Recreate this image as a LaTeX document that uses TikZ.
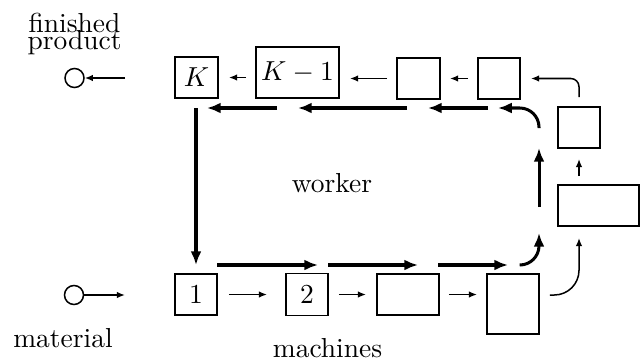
\documentclass[tikz,border=0pt]{standalone}
\usetikzlibrary{arrows.meta,calc}
\begin{document}
\begin{tikzpicture}[x=0.364pt,y=-0.364pt,
  box/.style={draw,line width=0.7pt,inner sep=0pt},
  sz/.style 2 args={minimum width=#1*0.364pt,minimum height=#2*0.364pt},
  thinarr/.style={line width=0.55pt,-{Latex[length=3pt,width=2.4pt]}},
  work/.style={line width=1.1pt,-{Latex[length=5pt,width=4pt]}},
  src/.style={draw,circle,line width=0.55pt,minimum size=19*0.364pt,inner sep=0pt},
  lbl/.style={anchor=base,inner sep=0pt}
]
\useasboundingbox (0,0) rectangle (642,360);
% machines
\node[box,sz={43}{41}] (nK)  at (196.5,77.5) {$K$};
\node[box,sz={83}{51}] (nK1) at (297.5,72.5) {$K-1$};
\node[box,sz={43}{41}] (nT3) at (418.5,78.5) {};
\node[box,sz={42}{41}] (nT4) at (499,78.5) {};
\node[box,sz={42}{41}] (nR1) at (579,127.5) {};
\node[box,sz={81}{41}] (nR2) at (598.5,205.5) {};
\node[box,sz={42}{41}] (nB1) at (196,294.5) {1};
\node[box,sz={42}{42}] (nB2) at (307,294.5) {2};
\node[box,sz={62}{41}] (nB3) at (408,294.5) {};
\node[box,sz={52}{60}] (nB4) at (513,304) {};
% source / sink
\node[src] (cT) at (74.5,78) {};
\node[src] (cB) at (74,295) {};
\coordinate (pT) at (125,78);
\coordinate (pB) at (125,295);
\draw[thinarr] (pT) -- (cT);
\draw[thinarr] (cB) -- (pB);
% material flow
\draw[thinarr] ($(nB1.east)+(11,0)$) -- ($(nB2.west)+(-18,0)$);
\draw[thinarr] ($(nB2.east)+(10,0)$) -- ($(nB3.west)+(-10,0)$);
\draw[thinarr] ($(nB3.east)+(9,0)$) -- ($(nB3.east-|nB4.west)+(-9,0)$);
\draw[thinarr,rounded corners=9pt] ($(nB4.east)+(10,-9)$) -| ($(nR2.south-|nR1.south)+(0,11)$);
\draw[thinarr] ($(nR2.north-|nR1.south)+(0,-8)$) -- ($(nR1.south)+(0,10)$);
\draw[thinarr,rounded corners=3pt] ($(nR1.north)+(0,-9)$) |- ($(nT4.east)+(10,0)$);
\draw[thinarr] ($(nT4.west)+(-9,0)$) -- ($(nT3.east)+(9,0)$);
\draw[thinarr] ($(nT3.west)+(-9,0)$) -- ($(nT3.west-|nK1.east)+(10,0)$);
\draw[thinarr] ($(nK1.west|-nK.east)+(-9,0)$) -- ($(nK.east)+(10,0)$);
% worker loop
\draw[work,rounded corners=7pt] (539,128) |- (498,108);
\draw[work] (488,108) -- (428,108);
\draw[work] (407,108) -- (298,108);
\draw[work] (277,108) -- (207,108);
\draw[work] (196,108) -- (196,265);
\draw[work] (217,265) -- (318,265);
\draw[work] (328,265) -- (418,265);
\draw[work] (438,265) -- (508,265);
\draw[work,rounded corners=7pt] (520,265) -| (539,233);
\draw[work] (539,207) -- (539,148);
% labels
\node[align=center,inner sep=0pt,anchor=south,
      font={\lineskiplimit=-20pt\baselineskip=6.4pt}] (tFP) at (74.5,55.5) {finished\\product};
\node[lbl] (tMat)  at (63,347) {material};
\node[lbl] (tMach) at (327.5,357) {machines};
\node[lbl] (tWork) at (332,192) {worker};
\end{tikzpicture}
\end{document}
